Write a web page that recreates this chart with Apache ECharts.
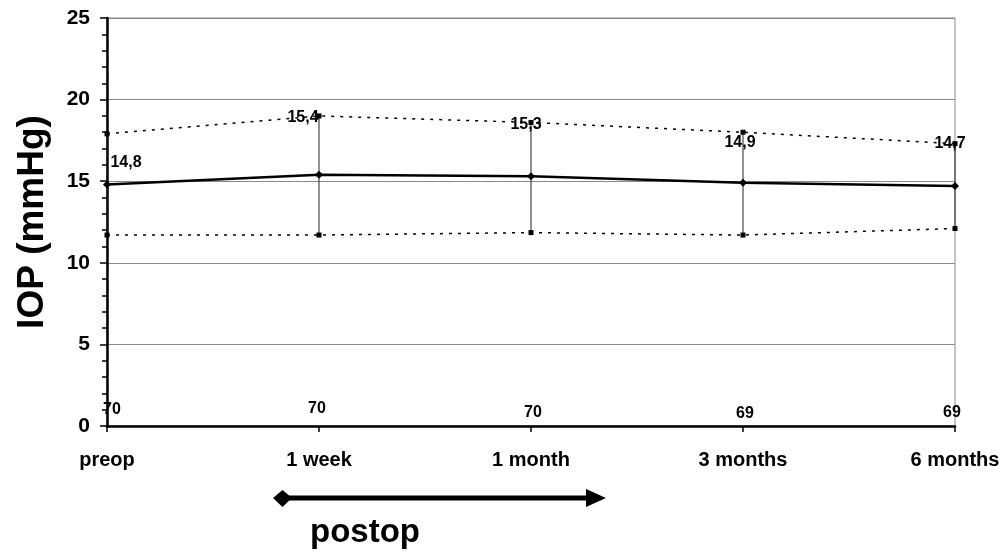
<!DOCTYPE html>
<html>
<head>
<meta charset="utf-8">
<script src="https://cdn.jsdelivr.net/npm/echarts@6/dist/echarts.min.js"></script>
<style>
html,body{margin:0;padding:0;background:#fff;}
#chart{width:1004px;height:552px;}
</style>
</head>
<body>
<div id="chart"></div>
<script>
const categories = ['preop', '1 week', '1 month', '3 months', '6 months'];
const meanIOP = [14.8, 15.4, 15.3, 14.9, 14.7];
const upperIOP = [17.9, 19.0, 18.6, 18.0, 17.3];
const lowerIOP = [11.7, 11.7, 11.85, 11.7, 12.1];
const nEyes = [70, 70, 70, 69, 69];
const yTicks = [0, 5, 10, 15, 20, 25];

// label placement offsets (pixels), separate from data
const meanLabelOffsets = [[19, 29], [-16, 2], [-5, 2], [-3, 10], [-5, 0]];
const nLabelOffsets = [[5, -16], [-2, -17], [2, -13], [2, -12], [-3, -13]];

const FONT = '"Liberation Sans", Arial, sans-serif';
const chart = echarts.init(document.getElementById('chart'), null, {renderer: 'canvas'});

const upperData = upperIOP.map((v, i) => ({
  value: v,
  label: {offset: meanLabelOffsets[i]}
}));
const nData = nEyes.map((v, i) => ({
  value: 0,
  n: v,
  label: {offset: nLabelOffsets[i]}
}));
const errData = categories.map((c, i) => [i, lowerIOP[i], upperIOP[i]]);

const option = {
  backgroundColor: '#ffffff',
  animation: false,
  grid: {left: 107, right: 49, top: 18, bottom: 126, show: true, borderColor: '#8a8a8a', borderWidth: 1},
  xAxis: {
    type: 'category',
    data: categories,
    boundaryGap: false,
    axisLine: {lineStyle: {color: '#000', width: 2.5}},
    axisTick: {show: true, length: 6, lineStyle: {color: '#000', width: 1.5}},
    axisLabel: {color: '#000', fontFamily: FONT, fontWeight: 'bold', fontSize: 20, margin: 24},
    splitLine: {show: false}
  },
  yAxis: {
    type: 'value',
    min: yTicks[0],
    max: yTicks[yTicks.length - 1],
    interval: 5,
    name: 'IOP (mmHg)',
    nameLocation: 'middle',
    nameRotate: 90,
    nameGap: 56,
    nameTextStyle: {color: '#000', fontFamily: FONT, fontWeight: 'bold', fontSize: 37},
    axisLine: {show: true, lineStyle: {color: '#000', width: 2.5}},
    axisTick: {show: true, length: 7, lineStyle: {color: '#000', width: 1.5}},
    minorTick: {show: true, splitNumber: 5, length: 5, lineStyle: {color: '#000', width: 1.5}},
    axisLabel: {color: '#000', fontFamily: FONT, fontWeight: 'bold', fontSize: 21, margin: 17},
    splitLine: {show: true, lineStyle: {color: '#8a8a8a', width: 1}}
  },
  series: [
    {
      name: 'errorbars',
      type: 'custom',
      data: errData,
      z: 2,
      renderItem: function (params, api) {
        const p1 = api.coord([api.value(0), api.value(1)]);
        const p2 = api.coord([api.value(0), api.value(2)]);
        return {
          type: 'line',
          shape: {x1: p1[0], y1: p1[1], x2: p2[0], y2: p2[1]},
          style: {stroke: '#222', lineWidth: 1}
        };
      }
    },
    {
      name: 'mean',
      type: 'line',
      data: meanIOP,
      z: 5,
      symbol: 'diamond',
      symbolSize: 8,
      itemStyle: {color: '#000'},
      lineStyle: {color: '#000', width: 2.5}
    },
    {
      name: 'upper',
      type: 'line',
      data: upperData,
      z: 4,
      symbol: 'rect',
      symbolSize: 5,
      itemStyle: {color: '#000'},
      lineStyle: {color: '#000', width: 1.5, type: [3, 6]},
      label: {
        show: true,
        position: 'inside',
        color: '#000',
        fontFamily: FONT,
        fontWeight: 'bold',
        fontSize: 16,
        formatter: function (p) { return String(meanIOP[p.dataIndex]).replace('.', ','); }
      }
    },
    {
      name: 'lower',
      type: 'line',
      data: lowerIOP,
      z: 4,
      symbol: 'rect',
      symbolSize: 5,
      itemStyle: {color: '#000'},
      lineStyle: {color: '#000', width: 1.5, type: [3, 6]}
    },
    {
      name: 'n',
      type: 'scatter',
      data: nData,
      symbolSize: 0,
      z: 6,
      itemStyle: {color: '#000', opacity: 1},
      label: {
        show: true,
        position: 'inside',
        color: '#000',
        opacity: 1,
        fontFamily: FONT,
        fontWeight: 'bold',
        fontSize: 16,
        formatter: function (p) { return String(p.data.n); }
      }
    }
  ],
  graphic: [
    {type: 'line', shape: {x1: 284, y1: 498, x2: 590, y2: 498}, style: {stroke: '#000', lineWidth: 5}},
    {type: 'polygon', shape: {points: [[273, 498], [282.5, 490], [292, 498], [282.5, 507]]}, style: {fill: '#000'}},
    {type: 'polygon', shape: {points: [[586, 489], [606, 498], [586, 507]]}, style: {fill: '#000'}},
    {type: 'text', left: 310, top: 516, style: {text: 'postop', fill: '#000', font: 'bold 33px "Liberation Sans", Arial, sans-serif'}}
  ]
};
chart.setOption(option);
</script>
</body>
</html>
